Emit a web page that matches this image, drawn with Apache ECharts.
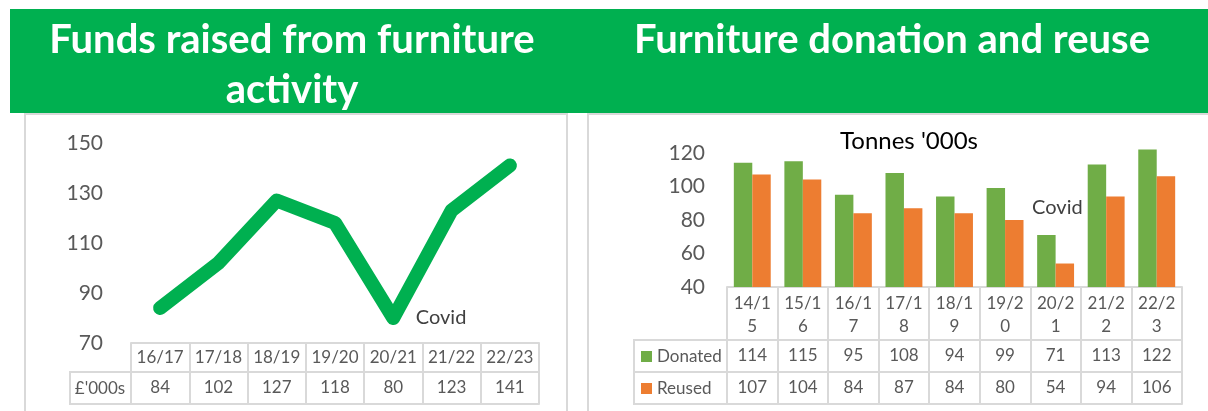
<!DOCTYPE html>
<html>
<head>
<meta charset="utf-8">
<script src="https://cdn.jsdelivr.net/npm/echarts@6/dist/echarts.min.js"></script>
<style>
html,body{margin:0;padding:0;background:#fff;}
#c{width:1208px;height:411px;}
</style>
</head>
<body>
<div id="c"></div>
<script>
// ---- data ----
const fundCats = ['16/17','17/18','18/19','19/20','20/21','21/22','22/23'];
const funds = [84, 102, 127, 118, 80, 123, 141];
const fundRowLabel = "£'000s";
const fundAxis = {min: 70, max: 150, interval: 20};

const tonCats = ['14/15','15/16','16/17','17/18','18/19','19/20','20/21','21/22','22/23'];
const donated = [114, 115, 95, 108, 94, 99, 71, 113, 122];
const reused = [107, 104, 84, 87, 84, 80, 54, 94, 106];
const tonAxis = {min: 40, max: 130, interval: 20};

const covidCat = '20/21';
const covidText = 'Covid';
const title1a = 'Funds raised from furniture';
const title1b = 'activity';
const title2 = 'Furniture donation and reuse';
const title2sub = "Tonnes '000s";

// ---- style ----
const FONT = 'Lato';
const GREEN_HDR = '#00B050';
const LINE_C = '#D9D9D9';
const TXT = '#595959';
const DON_C = '#70AD47';
const REU_C = '#ED7D31';

const chart = echarts.init(document.getElementById('c'), null, {renderer: 'canvas'});

function lineAxis(gridIndex, cats, offset, tickLen, label) {
  return {
    gridIndex, type: 'category', data: cats, position: 'bottom', offset,
    axisLine: {show: true, lineStyle: {color: LINE_C, width: 2}},
    axisTick: {show: tickLen > 0, length: tickLen, interval: 0, lineStyle: {color: LINE_C, width: 2}},
    axisLabel: label ? Object.assign({interval: 0, fontSize: 17, color: TXT, fontFamily: FONT, lineHeight: 18}, label) : {show: false},
    splitLine: {show: false}
  };
}
function valAxis(gridIndex, ax, margin) {
  return {
    gridIndex, type: 'value', min: ax.min, max: ax.max, interval: ax.interval,
    axisLine: {show: false}, axisTick: {show: false}, splitLine: {show: false},
    axisLabel: {fontSize: 21, color: TXT, fontFamily: FONT, margin, showMaxLabel: ax.max % ax.interval === ax.min % ax.interval}
  };
}

const option = {
  animation: false,
  backgroundColor: '#fff',
  grid: [
    {left: 131, right: 669, top: 143, bottom: 68},
    {left: 727, right: 26, top: 136, bottom: 124}
  ],
  xAxis: [
    lineAxis(0, fundCats, 0, 29, {margin: 6}),
    lineAxis(0, fundCats, 29, 32, {margin: 7, formatter: (v, i) => String(funds[i])}),
    lineAxis(0, fundCats, 61, 0, null),
    lineAxis(1, tonCats, 0, 53, {margin: 5, lineHeight: 23, formatter: v => v.slice(0, 4) + '\n' + v.slice(4)}),
    lineAxis(1, tonCats, 53, 32, {margin: 7, formatter: (v, i) => String(donated[i])}),
    lineAxis(1, tonCats, 85, 32, {margin: 7, formatter: (v, i) => String(reused[i])}),
    lineAxis(1, tonCats, 117, 0, null)
  ],
  yAxis: [
    valAxis(0, fundAxis, 28),
    valAxis(1, tonAxis, 22)
  ],
  series: [
    {
      type: 'line', xAxisIndex: 0, yAxisIndex: 0, data: funds,
      symbol: 'none', clip: false,
      lineStyle: {width: 14, color: GREEN_HDR, cap: 'round', join: 'round'},
      markPoint: {
        symbol: 'circle', symbolSize: 1, itemStyle: {color: 'rgba(0,0,0,0)'},
        data: [{coord: [covidCat, funds[fundCats.indexOf(covidCat)]],
          label: {show: true, position: 'right', distance: 22, formatter: covidText,
            color: '#404040', fontSize: 20, fontFamily: FONT}}]
      }
    },
    {
      type: 'bar', name: 'Donated', xAxisIndex: 3, yAxisIndex: 1, data: donated,
      itemStyle: {color: DON_C}, barGap: '0%', barCategoryGap: '27%', clip: true,
      markPoint: {
        symbol: 'circle', symbolSize: 1, itemStyle: {color: 'rgba(0,0,0,0)'},
        data: [{coord: [covidCat, donated[tonCats.indexOf(covidCat)]],
          label: {show: true, position: 'top', distance: 17, offset: [11, 0], formatter: covidText,
            color: '#404040', fontSize: 20, fontFamily: FONT}}]
      }
    },
    {
      type: 'bar', name: 'Reused', xAxisIndex: 3, yAxisIndex: 1, data: reused,
      itemStyle: {color: REU_C}, barGap: '0%', barCategoryGap: '27%', clip: true
    }
  ],
  graphic: [
    // header band
    {type: 'rect', shape: {x: 10, y: 9, width: 1198, height: 104}, style: {fill: GREEN_HDR}, silent: true},
    {type: 'text', style: {x: 292, y: 40, text: title1a, fill: '#fff', fontSize: 40, fontWeight: 'bold', fontFamily: FONT, textAlign: 'center', textVerticalAlign: 'middle'}},
    {type: 'text', style: {x: 292, y: 90, text: title1b, fill: '#fff', fontSize: 40, fontWeight: 'bold', fontFamily: FONT, textAlign: 'center', textVerticalAlign: 'middle'}},
    {type: 'text', style: {x: 892, y: 40, text: title2, fill: '#fff', fontSize: 40, fontWeight: 'bold', fontFamily: FONT, textAlign: 'center', textVerticalAlign: 'middle'}},
    // chart boxes
    {type: 'rect', shape: {x: 25, y: 114, width: 542, height: 310}, style: {fill: 'none', stroke: LINE_C, lineWidth: 2}, silent: true, z: -1},
    {type: 'rect', shape: {x: 588, y: 114, width: 640, height: 310}, style: {fill: 'none', stroke: LINE_C, lineWidth: 2}, silent: true, z: -1},
    // left row label cell
    {type: 'rect', shape: {x: 70, y: 372, width: 61, height: 32}, style: {fill: 'none', stroke: LINE_C, lineWidth: 2}, silent: true},
    {type: 'text', style: {x: 100, y: 389, text: fundRowLabel, fill: TXT, fontSize: 17, fontFamily: FONT, textAlign: 'center', textVerticalAlign: 'middle'}},
    // right sub title
    {type: 'text', style: {x: 909, y: 141, text: title2sub, fill: '#000', fontSize: 24, fontFamily: FONT, textAlign: 'center', textVerticalAlign: 'middle'}},
    // right row label cells
    {type: 'rect', shape: {x: 634, y: 340, width: 93, height: 32}, style: {fill: 'none', stroke: LINE_C, lineWidth: 2}, silent: true},
    {type: 'rect', shape: {x: 634, y: 372, width: 93, height: 32}, style: {fill: 'none', stroke: LINE_C, lineWidth: 2}, silent: true},
    {type: 'rect', shape: {x: 641, y: 351, width: 11, height: 11}, style: {fill: DON_C}, silent: true},
    {type: 'rect', shape: {x: 641, y: 383, width: 11, height: 11}, style: {fill: REU_C}, silent: true},
    {type: 'text', style: {x: 657, y: 357, text: 'Donated', fill: TXT, fontSize: 17, fontFamily: FONT, textAlign: 'left', textVerticalAlign: 'middle'}},
    {type: 'text', style: {x: 657, y: 389, text: 'Reused', fill: TXT, fontSize: 17, fontFamily: FONT, textAlign: 'left', textVerticalAlign: 'middle'}}
  ]
};
chart.setOption(option);
</script>
</body>
</html>
